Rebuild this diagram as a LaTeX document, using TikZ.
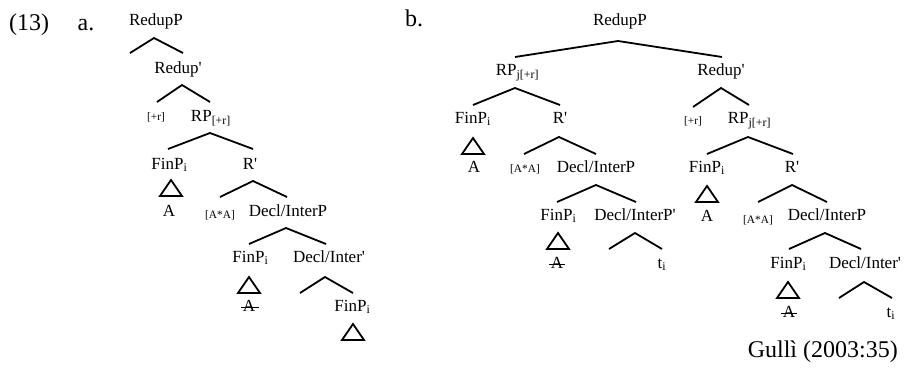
\documentclass[tikz,border=0pt]{standalone}
\usepackage{fontspec}
\setmainfont{Liberation Serif}
\newcommand{\barmark}{\textquotesingle}
\begin{document}
\begin{tikzpicture}[x=0.75pt,y=-0.75pt,
  lbl/.style={inner sep=0pt, text height=1.5ex, text depth=0pt, font=\fontsize{12.75}{14}\selectfont},
  feat/.style={lbl, font=\fontsize{8.5}{10}\selectfont},
  big/.style={inner sep=0pt, anchor=base, font=\fontsize{18}{20}\selectfont},
  branch/.style={line width=1.35pt, line join=miter},
  tri/.style={line width=1.35pt, line join=miter},
  strike/.style={line width=0.6pt}]
\useasboundingbox (0,0) rectangle (904,375);

% example number and sub-labels
\node[big] (num) at (29,30) {(13)};
\node[big] (la) at (86,30) {a.};
\node[big] (lb) at (414,26) {b.};
\node[big, anchor=base east] (src) at (898,357) {Gullì (2003:35)};

% ---------------- tree (a) ----------------
\node[lbl] (aRedupP) at (156,21) {RedupP};
\coordinate (aB1) at (154,38); \coordinate (aB1l) at (130,53); \coordinate (aB1r) at (183,53);
\draw[branch] (aB1l) -- (aB1) -- (aB1r);

\node[lbl] (aRedupBar) at (178,69) {Redup\barmark};
\coordinate (aB2) at (182,85); \coordinate (aB2l) at (157,102); \coordinate (aB2r) at (210,102);
\draw[branch] (aB2l) -- (aB2) -- (aB2r);

\node[feat] (aPlusR) at (156,116) {[+r]};
\node[lbl] (aRP) at (211,117) {RP\textsubscript{[+r]}};
\coordinate (aB3) at (210,133); \coordinate (aB3l) at (168,149); \coordinate (aB3r) at (253,149);
\draw[branch] (aB3l) -- (aB3) -- (aB3r);

\node[lbl] (aFinP1) at (169.5,165) {FinP\textsubscript{i}};
\node[lbl] (aRbar) at (250,165) {R\barmark};
\coordinate (aT1) at (171,180);
\draw[tri] (aT1) -- ++(-11,16) -- ++(22,0) -- cycle;
\node[lbl] (aA1) at (169,212) {A};

\coordinate (aB4) at (253,181); \coordinate (aB4l) at (220,197); \coordinate (aB4r) at (287,197);
\draw[branch] (aB4l) -- (aB4) -- (aB4r);
\node[feat] (aAA) at (220,214) {[A*A]};
\node[lbl] (aDecl) at (288,212) {Decl/InterP};

\coordinate (aB5) at (286,228); \coordinate (aB5l) at (249,244); \coordinate (aB5r) at (326,244);
\draw[branch] (aB5l) -- (aB5) -- (aB5r);
\node[lbl] (aFinP2) at (250.5,258) {FinP\textsubscript{i}};
\node[lbl] (aDeclBar) at (329,258) {Decl/Inter\barmark};

\coordinate (aT2) at (249,277);
\draw[tri] (aT2) -- ++(-11,16) -- ++(22,0) -- cycle;
\node[lbl] (aA2) at (249,307) {A};
\draw[strike] ([xshift=-1]aA2.west) -- ([xshift=3]aA2.east);

\coordinate (aB6) at (325,277); \coordinate (aB6l) at (300,293); \coordinate (aB6r) at (353,293);
\draw[branch] (aB6l) -- (aB6) -- (aB6r);
\node[lbl] (aFinP3) at (352.5,307) {FinP\textsubscript{i}};
\coordinate (aT3) at (353,324);
\draw[tri] (aT3) -- ++(-11,16) -- ++(22,0) -- cycle;

% ---------------- tree (b) ----------------
\node[lbl] (bRedupP) at (620,21) {RedupP};
\coordinate (bB1) at (618,41); \coordinate (bB1l) at (515,57); \coordinate (bB1r) at (722,57);
\draw[branch] (bB1l) -- (bB1) -- (bB1r);

\node[lbl] (bRP1) at (517.5,71) {RP\textsubscript{j[+r]}};
\node[lbl] (bRedupBar) at (721,71) {Redup\barmark};

\coordinate (bB2) at (515,88); \coordinate (bB2l) at (473,105); \coordinate (bB2r) at (560,105);
\draw[branch] (bB2l) -- (bB2) -- (bB2r);
\coordinate (bB3) at (721,88); \coordinate (bB3l) at (693,107); \coordinate (bB3r) at (749,105);
\draw[branch] (bB3l) -- (bB3) -- (bB3r);

\node[lbl] (bFinP1) at (473,119) {FinP\textsubscript{i}};
\node[lbl] (bRbar1) at (560,119) {R\barmark};
\node[feat] (bPlusR) at (693,120) {[+r]};
\node[lbl] (bRP2) at (749.5,119) {RP\textsubscript{j[+r]}};

\coordinate (bT1) at (473,138);
\draw[tri] (bT1) -- ++(-11,16) -- ++(22,0) -- cycle;
\node[lbl] (bA1) at (474,168) {A};

\coordinate (bB4) at (559,137); \coordinate (bB4l) at (524,154); \coordinate (bB4r) at (596,154);
\draw[branch] (bB4l) -- (bB4) -- (bB4r);
\node[feat] (bAA1) at (525,168) {[A*A]};
\node[lbl] (bDecl1) at (596,168) {Decl/InterP};

\coordinate (bB5) at (748,137); \coordinate (bB5l) at (707,154); \coordinate (bB5r) at (793,154);
\draw[branch] (bB5l) -- (bB5) -- (bB5r);
\node[lbl] (bFinP2) at (707,168) {FinP\textsubscript{i}};
\node[lbl] (bRbar2) at (792,168) {R\barmark};

\coordinate (bB6) at (596,185); \coordinate (bB6l) at (557,202); \coordinate (bB6r) at (636,202);
\draw[branch] (bB6l) -- (bB6) -- (bB6r);
\node[lbl] (bFinP3) at (558.5,216) {FinP\textsubscript{i}};
\node[lbl] (bDeclBar1) at (635,216) {Decl/InterP\barmark};

\coordinate (bT2) at (558,233);
\draw[tri] (bT2) -- ++(-11,16) -- ++(22,0) -- cycle;
\node[lbl] (bA2) at (557,264) {A};
\draw[strike] ([xshift=-1]bA2.west) -- ([xshift=1]bA2.east);

\coordinate (bB7) at (635,233); \coordinate (bB7l) at (609,249); \coordinate (bB7r) at (662,249);
\draw[branch] (bB7l) -- (bB7) -- (bB7r);
\node[lbl] (bt1) at (662,264) {t\textsubscript{i}};

\coordinate (bT3) at (707,186);
\draw[tri] (bT3) -- ++(-11,16) -- ++(22,0) -- cycle;
\node[lbl] (bA3) at (707,217) {A};

\coordinate (bB8) at (792,185); \coordinate (bB8l) at (758,202); \coordinate (bB8r) at (827,202);
\draw[branch] (bB8l) -- (bB8) -- (bB8r);
\node[feat] (bAA2) at (758,219) {[A*A]};
\node[lbl] (bDecl2) at (827,216) {Decl/InterP};

\coordinate (bB9) at (825,233); \coordinate (bB9l) at (789,249); \coordinate (bB9r) at (861,249);
\draw[branch] (bB9l) -- (bB9) -- (bB9r);
\node[lbl] (bFinP4) at (788.5,264) {FinP\textsubscript{i}};
\node[lbl] (bDeclBar2) at (865,264) {Decl/Inter\barmark};

\coordinate (bT4) at (788,282);
\draw[tri] (bT4) -- ++(-11,16) -- ++(22,0) -- cycle;
\node[lbl] (bA4) at (789,313) {A};
\draw[strike] ([xshift=-1]bA4.west) -- ([xshift=1]bA4.east);

\coordinate (bB10) at (864,282); \coordinate (bB10l) at (839,298); \coordinate (bB10r) at (892,298);
\draw[branch] (bB10l) -- (bB10) -- (bB10r);
\node[lbl] (bt2) at (891,313) {t\textsubscript{i}};
\end{tikzpicture}
\end{document}
